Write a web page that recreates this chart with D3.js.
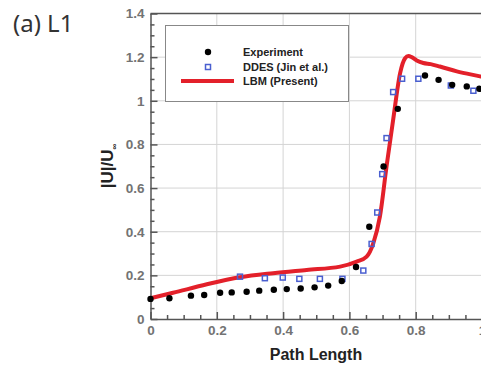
<!DOCTYPE html>
<html>
<head>
<meta charset="utf-8">
<script src="https://cdn.jsdelivr.net/npm/d3@7"></script>
<style>
  html, body { margin: 0; padding: 0; background: #fff; overflow: hidden; }
  svg { display: block; }
</style>
</head>
<body>
<svg id="chart" width="481" height="368"></svg>
<script>
// Measured velocity magnitude along line L1
const expPath = [0.0, 0.057, 0.122, 0.162, 0.21, 0.245, 0.29, 0.328, 0.372, 0.411, 0.453, 0.495, 0.536, 0.577, 0.62, 0.66, 0.703, 0.746, 0.828, 0.869, 0.91, 0.954, 0.992];
const expU    = [0.092, 0.095, 0.107, 0.11, 0.12, 0.122, 0.125, 0.13, 0.134, 0.137, 0.14, 0.145, 0.153, 0.174, 0.238, 0.423, 0.699, 0.963, 1.116, 1.096, 1.073, 1.066, 1.055];

// DDES reference results (Jin et al.)
const ddesPath = [0.27, 0.345, 0.399, 0.449, 0.511, 0.579, 0.642, 0.667, 0.684, 0.699, 0.712, 0.732, 0.759, 0.808, 0.906, 0.974];
const ddesU    = [0.194, 0.187, 0.19, 0.184, 0.184, 0.184, 0.222, 0.344, 0.488, 0.664, 0.829, 1.04, 1.101, 1.101, 1.07, 1.046];

// Present LBM profile
const lbmPath = [0.0, 0.068, 0.17, 0.27, 0.37, 0.471, 0.572, 0.622, 0.652, 0.672, 0.692, 0.712, 0.732, 0.753, 0.768, 0.778, 0.788, 0.803, 0.823, 0.845, 0.873, 0.924, 0.994, 1.0];
const lbmU    = [0.095, 0.12, 0.159, 0.191, 0.21, 0.225, 0.24, 0.263, 0.286, 0.347, 0.469, 0.699, 0.913, 1.127, 1.195, 1.205, 1.2, 1.185, 1.173, 1.168, 1.157, 1.135, 1.112, 1.11];

const xTicks = [0, 0.2, 0.4, 0.6, 0.8, 1];
const xTickLabels = ["0", "0.2", "0.4", "0.6", "0.8", "1"];
const yTicks = [0, 0.2, 0.4, 0.6, 0.8, 1, 1.2, 1.4];
const yTickLabels = ["0", "0.2", "0.4", "0.6", "0.8", "1", "1.2", "1.4"];
const legendLabels = ["Experiment", "DDES (Jin et al.)", "LBM (Present)"];

const svg = d3.select("#chart");
const x = d3.scaleLinear().domain([0, 1]).range([150.5, 482]);
const y = d3.scaleLinear().domain([0, 1.4]).range([319, 13.5]);

const axisColor = "#555";
const labelFont = "'Liberation Sans', Arial, sans-serif";

// Panel label
svg.append("text")
  .attr("x", 13).attr("y", 32)
  .attr("font-family", "'Noto Sans', 'Open Sans', sans-serif")
  .attr("font-size", 24)
  .attr("fill", "#333")
  .text("(a) L1");

// Grid lines
const grid = svg.append("g");
grid.selectAll(".gx").data(xTicks.slice(1, -1)).enter().append("line")
  .attr("x1", d => x(d)).attr("x2", d => x(d))
  .attr("y1", y(1.4)).attr("y2", y(0))
  .attr("stroke", "#d4d4d4").attr("stroke-width", 1);
grid.selectAll(".gy").data(yTicks.slice(1, -1)).enter().append("line")
  .attr("x1", x(0)).attr("x2", x(1))
  .attr("y1", d => y(d)).attr("y2", d => y(d))
  .attr("stroke", "#d4d4d4").attr("stroke-width", 1);

// Axes with inward-pointing ticks
const minorX = d3.range(0, 1.0001, 0.05).filter(v => Math.abs(v * 5 - Math.round(v * 5)) > 1e-6);
const minorY = d3.range(0, 1.4001, 0.05).filter(v => Math.abs(v * 5 - Math.round(v * 5)) > 1e-6);

const xAxis = d3.axisBottom(x).tickValues(xTicks)
  .tickFormat((d, i) => xTickLabels[i]).tickSizeInner(-7).tickSizeOuter(0).tickPadding(6);
const gx = svg.append("g").attr("transform", `translate(0,${y(0)})`).call(xAxis);
const xMinor = d3.axisBottom(x).tickValues(minorX).tickFormat("").tickSizeInner(-4).tickSizeOuter(0);
const gxm = svg.append("g").attr("transform", `translate(0,${y(0)})`).call(xMinor);
gxm.select(".domain").remove();

const yAxis = d3.axisLeft(y).tickValues(yTicks)
  .tickFormat((d, i) => yTickLabels[i]).tickSizeInner(-7).tickSizeOuter(0).tickPadding(6);
const gy = svg.append("g").attr("transform", `translate(${x(0)},0)`).call(yAxis);
const yMinor = d3.axisLeft(y).tickValues(minorY).tickFormat("").tickSizeInner(-4).tickSizeOuter(0);
const gym = svg.append("g").attr("transform", `translate(${x(0)},0)`).call(yMinor);
gym.select(".domain").remove();

[gx, gxm, gy, gym].forEach(g => {
  g.selectAll("path, line").attr("stroke", axisColor).attr("stroke-width", 1.5);
  g.selectAll("text")
    .attr("font-family", labelFont)
    .attr("font-size", 13.5)
    .attr("font-weight", "bold")
    .attr("fill", "#737373");
});

// Top frame line
svg.append("line")
  .attr("x1", x(0)).attr("x2", x(1))
  .attr("y1", y(1.4)).attr("y2", y(1.4))
  .attr("stroke", axisColor).attr("stroke-width", 1.5);

// Axis titles
svg.append("text")
  .attr("x", 316).attr("y", 360)
  .attr("text-anchor", "middle")
  .attr("font-family", labelFont)
  .attr("font-size", 16).attr("font-weight", "bold")
  .attr("fill", "#222")
  .text("Path Length");

const yTitle = svg.append("text")
  .attr("transform", "translate(113,166) rotate(-90)")
  .attr("text-anchor", "middle")
  .attr("font-family", labelFont)
  .attr("font-size", 17).attr("font-weight", "bold")
  .attr("fill", "#222");
yTitle.append("tspan").text("|U|/U");
yTitle.append("tspan").attr("font-size", 8).attr("dy", 4).text("∞");

// LBM curve
const lbmData = lbmPath.map((p, i) => [p, lbmU[i]]);
svg.append("path")
  .datum(lbmData)
  .attr("fill", "none")
  .attr("stroke", "#e3202a")
  .attr("stroke-width", 4)
  .attr("stroke-linejoin", "round")
  .attr("d", d3.line().x(d => x(d[0])).y(d => y(d[1])).curve(d3.curveMonotoneX));

// DDES squares
svg.append("g").selectAll("rect")
  .data(ddesPath.map((p, i) => [p, ddesU[i]]))
  .enter().append("rect")
  .attr("x", d => x(d[0]) - 2.5).attr("y", d => y(d[1]) - 2.5)
  .attr("width", 5).attr("height", 5)
  .attr("fill", "none").attr("stroke", "#4a5fd0").attr("stroke-width", 1.5);

// Experimental points
svg.append("g").selectAll("circle")
  .data(expPath.map((p, i) => [p, expU[i]]))
  .enter().append("circle")
  .attr("cx", d => x(d[0])).attr("cy", d => y(d[1]))
  .attr("r", 3.2).attr("fill", "#000");

// Legend
const lg = svg.append("g");
lg.append("rect")
  .attr("x", 165.5).attr("y", 25.5).attr("width", 183).attr("height", 76)
  .attr("fill", "#fff").attr("stroke", "#888").attr("stroke-width", 1);
const rowY = [52, 67, 81];
lg.append("circle").attr("cx", 208).attr("cy", rowY[0]).attr("r", 3.2).attr("fill", "#000");
lg.append("rect").attr("x", 205.5).attr("y", rowY[1] - 2.5).attr("width", 5).attr("height", 5)
  .attr("fill", "none").attr("stroke", "#4a5fd0").attr("stroke-width", 1.5);
lg.append("line").attr("x1", 181).attr("x2", 234).attr("y1", rowY[2]).attr("y2", rowY[2])
  .attr("stroke", "#e3202a").attr("stroke-width", 4);
lg.selectAll("text.lg").data(legendLabels).enter().append("text")
  .attr("x", 243).attr("y", (d, i) => rowY[i] + 4)
  .attr("font-family", labelFont)
  .attr("font-size", 11).attr("font-weight", "bold")
  .attr("fill", "#222")
  .text(d => d);
</script>
</body>
</html>
